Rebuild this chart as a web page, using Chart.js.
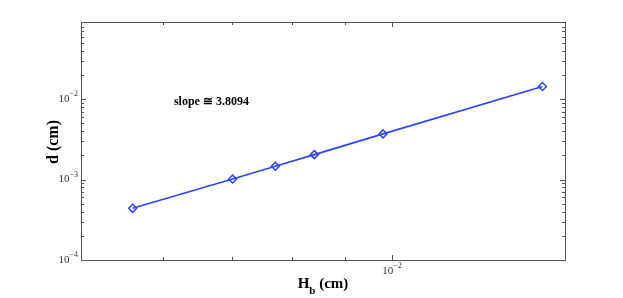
<!DOCTYPE html>
<html>
<head>
<meta charset="utf-8">
<script src="https://cdn.jsdelivr.net/npm/chart.js"></script>
<style>
  html, body { margin: 0; padding: 0; background: #fff; }
  #wrap { width: 623px; height: 298px; }
</style>
</head>
<body>
<div id="wrap"><canvas id="chart"></canvas></div>
<script>
// 数据 (读自图片)
const hbValues = [0.00561, 0.00701, 0.00771, 0.00841, 0.00980, 0.01398];
const dValues = [0.000439, 0.001017, 0.001466, 0.002042, 0.003698, 0.01437];
const xRange = [0.005, 0.0147];
const yRange = [0.0001, 0.091];
const xTickExps = [-2];
const yTickExps = [-4, -3, -2];
const slopeText = 'slope \u2245 3.8094';
const slopePos = [0.00615, 0.0093];

const serif = '"Liberation Serif", "Times New Roman", serif';
const lineColor = '#2a44ff';

// 对数刻度的位置 (1..9 x 10^n)
function logTicks(min, max) {
    const out = [];
    for (let e = Math.floor(Math.log10(min)); e <= Math.ceil(Math.log10(max)); e++) {
        for (let k = 1; k <= 9; k++) {
            const v = k * Math.pow(10, e);
            if (v >= min * 0.999 && v <= max * 1.001) out.push({ v: v, major: k === 1 });
        }
    }
    return out;
}

function drawPower(ctx, exp, x, y, align) {
    // "10" 加上标
    ctx.font = '11px ' + serif;
    const base = '10';
    const sup = '\u2212' + Math.abs(exp);
    const bw = ctx.measureText(base).width;
    ctx.font = '8px ' + serif;
    const sw = ctx.measureText(sup).width;
    let left = align === 'right' ? x - bw - sw : x - (bw + sw) / 2;
    ctx.textAlign = 'left';
    ctx.textBaseline = 'middle';
    ctx.font = '11px ' + serif;
    ctx.fillText(base, left, y);
    ctx.font = '8px ' + serif;
    ctx.fillText(sup, left + bw, y - 5);
}

const axisPlugin = {
    id: 'matlabAxes',
    afterDraw(chart) {
        const ctx = chart.ctx;
        const a = chart.chartArea;
        const xs = chart.scales.x;
        const ys = chart.scales.y;
        ctx.save();

        // 边框
        ctx.strokeStyle = '#555';
        ctx.lineWidth = 1;
        ctx.strokeRect(a.left + 0.5, a.top + 0.5, a.right - a.left, a.bottom - a.top);

        // 向内的刻度线
        ctx.beginPath();
        logTicks(xRange[0], xRange[1]).forEach(t => {
            const px = Math.round(xs.getPixelForValue(t.v)) + 0.5;
            const len = t.major ? 5 : 3;
            ctx.moveTo(px, a.bottom); ctx.lineTo(px, a.bottom - len);
            ctx.moveTo(px, a.top); ctx.lineTo(px, a.top + len);
        });
        logTicks(yRange[0], yRange[1]).forEach(t => {
            const py = Math.round(ys.getPixelForValue(t.v)) + 0.5;
            const len = t.major ? 5 : 3;
            ctx.moveTo(a.left, py); ctx.lineTo(a.left + len, py);
            ctx.moveTo(a.right, py); ctx.lineTo(a.right - len, py);
        });
        ctx.stroke();

        // 刻度标签
        ctx.fillStyle = '#333';
        yTickExps.forEach(e => {
            drawPower(ctx, e, a.left - 3, ys.getPixelForValue(Math.pow(10, e)), 'right');
        });
        xTickExps.forEach(e => {
            drawPower(ctx, e, xs.getPixelForValue(Math.pow(10, e)), a.bottom + 11, 'center');
        });

        // 坐标轴标题
        ctx.fillStyle = '#000';
        ctx.font = 'bold 15px ' + serif;
        const wH = ctx.measureText('H').width;
        const wRest = ctx.measureText(' (cm)').width;
        ctx.font = 'bold 11px ' + serif;
        const wb = ctx.measureText('b').width;
        const cx = (a.left + a.right) / 2;
        let x0 = cx - (wH + wb + wRest) / 2;
        ctx.textAlign = 'left';
        ctx.textBaseline = 'alphabetic';
        ctx.font = 'bold 15px ' + serif;
        ctx.fillText('H', x0, 288);
        ctx.font = 'bold 11px ' + serif;
        ctx.fillText('b', x0 + wH, 294);
        ctx.font = 'bold 15px ' + serif;
        ctx.fillText(' (cm)', x0 + wH + wb, 288);

        ctx.save();
        ctx.translate(54, (a.top + a.bottom) / 2 + 1);
        ctx.rotate(-Math.PI / 2);
        ctx.textAlign = 'center';
        ctx.textBaseline = 'middle';
        ctx.font = 'bold 16px ' + serif;
        ctx.fillText('d (cm)', 0, 0);
        ctx.restore();

        // 斜率注释
        ctx.font = 'bold 12px ' + serif;
        ctx.textAlign = 'left';
        ctx.textBaseline = 'middle';
        ctx.fillText(slopeText, xs.getPixelForValue(slopePos[0]), ys.getPixelForValue(slopePos[1]));

        ctx.restore();
    }
};

const ctx = document.getElementById('chart').getContext('2d');
const chart = new Chart(ctx, {
    type: 'line',
    data: {
        datasets: [{
            data: hbValues.map((v, i) => ({ x: v, y: dValues[i] })),
            borderColor: lineColor,
            borderWidth: 1.6,
            pointStyle: 'rectRot',
            pointRadius: 4,
            pointBorderWidth: 1.5,
            pointBorderColor: lineColor,
            pointBackgroundColor: 'rgba(255,255,255,0)',
            tension: 0,
            fill: false
        }]
    },
    options: {
        responsive: true,
        maintainAspectRatio: false,
        animation: false,
        layout: { padding: { top: 22, right: 58, left: 0, bottom: 0 } },
        plugins: { legend: { display: false }, tooltip: { enabled: false } },
        scales: {
            x: {
                type: 'logarithmic',
                min: xRange[0],
                max: xRange[1],
                grid: { display: false },
                border: { display: false },
                ticks: { display: false },
                afterFit: s => { s.height = 38; }
            },
            y: {
                type: 'logarithmic',
                min: yRange[0],
                max: yRange[1],
                grid: { display: false },
                border: { display: false },
                ticks: { display: false },
                afterFit: s => { s.width = 81; }
            }
        }
    },
    plugins: [axisPlugin]
});
</script>
</body>
</html>
